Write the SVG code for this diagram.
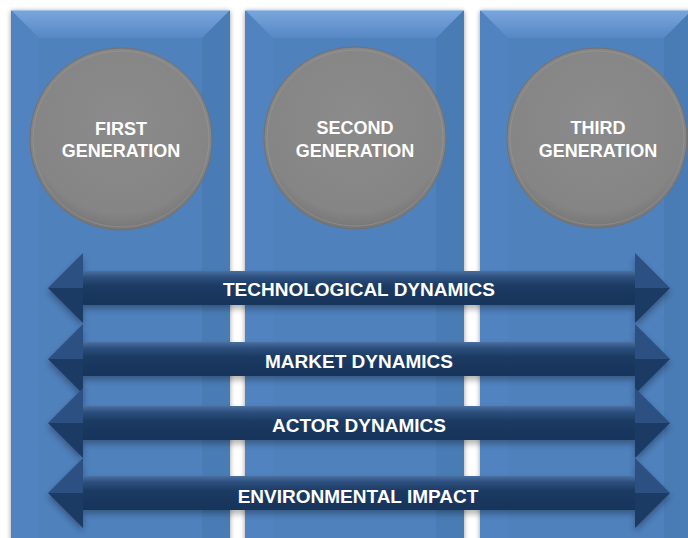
<svg xmlns="http://www.w3.org/2000/svg" width="688" height="538" viewBox="0 0 688 538">
  <style>
    .face { fill: #4f81bd; }
    .bev-top { fill: url(#bevTop); }
    .bev-left { fill: #5183c0; }
    .bev-right { fill: #4a7bb5; }
    .rim { fill: none; stroke: #9cc2ee; stroke-width: 1; }
    .disc { fill: url(#discFill); stroke: #717171; stroke-width: 1; }
    .disc-ring { fill: none; stroke: #a0a0a0; stroke-width: 1; opacity: 0.45; }
    .gen { font-family: "Liberation Sans", Arial, sans-serif; font-weight: bold; font-size: 18px; fill: #ffffff; text-anchor: middle; }
    .dyn { font-family: "Liberation Sans", Arial, sans-serif; font-weight: bold; font-size: 19px; fill: #ffffff; text-anchor: middle; }
    .shaft { fill: url(#shaftFill); }
    .head-up { fill: #2c5081; }
    .head-dn { fill: #1b3b65; }
    .shade { fill: #000000; opacity: 0.3; filter: url(#soft); }
  </style>
  <defs>
    <linearGradient id="bevTop" x1="0" y1="0" x2="0" y2="1">
      <stop offset="0" stop-color="#7ba6dc"/>
      <stop offset="1" stop-color="#5688c6"/>
    </linearGradient>
    <radialGradient id="discFill" cx="0.5" cy="0.4" r="0.6">
      <stop offset="0" stop-color="#8b8b8b"/>
      <stop offset="0.85" stop-color="#858585"/>
      <stop offset="1" stop-color="#767676"/>
    </radialGradient>
    <linearGradient id="shaftFill" x1="0" y1="0" x2="0" y2="1">
      <stop offset="0" stop-color="#4a70a0"/>
      <stop offset="0.18" stop-color="#2c4f7e"/>
      <stop offset="0.45" stop-color="#1b3a62"/>
      <stop offset="1" stop-color="#17345a"/>
    </linearGradient>
    <filter id="soft" x="-10%" y="-50%" width="120%" height="200%">
      <feGaussianBlur stdDeviation="3"/>
    </filter>
    <filter id="colShadow" x="-10%" y="-5%" width="120%" height="110%">
      <feGaussianBlur in="SourceAlpha" stdDeviation="2.5"/>
      <feOffset dx="0" dy="1" result="b"/>
      <feComponentTransfer><feFuncA type="linear" slope="0.4"/></feComponentTransfer>
      <feMerge><feMergeNode/><feMergeNode in="SourceGraphic"/></feMerge>
    </filter>
  </defs>

  <rect width="688" height="538" fill="#ffffff"/>

  <!-- generation columns with bevelled tops -->
  <g id="column-first" filter="url(#colShadow)">
    <rect class="face" x="11" y="10" width="219" height="540"/>
    <polygon class="bev-left" points="11,10 39,38 39,550 11,550"/>
    <polygon class="bev-right" points="230,10 202,38 202,550 230,550"/>
    <polygon class="bev-top" points="11,10 230,10 202,38 39,38"/>
    <line class="rim" x1="11" y1="10.5" x2="230" y2="10.5"/>
  </g>
  <g id="column-second" filter="url(#colShadow)">
    <rect class="face" x="245" y="10" width="219" height="540"/>
    <polygon class="bev-left" points="245,10 273,38 273,550 245,550"/>
    <polygon class="bev-right" points="464,10 436,38 436,550 464,550"/>
    <polygon class="bev-top" points="245,10 464,10 436,38 273,38"/>
    <line class="rim" x1="245" y1="10.5" x2="464" y2="10.5"/>
  </g>
  <g id="column-third" filter="url(#colShadow)">
    <rect class="face" x="480" y="10" width="212" height="540"/>
    <polygon class="bev-left" points="480,10 508,38 508,550 480,550"/>
    <polygon class="bev-right" points="692,10 664,38 664,550 692,550"/>
    <polygon class="bev-top" points="480,10 692,10 664,38 508,38"/>
    <line class="rim" x1="480" y1="10.5" x2="692" y2="10.5"/>
  </g>

  <!-- generation discs -->
  <g id="first-generation">
    <circle class="disc" cx="121" cy="139" r="91"/>
    <circle class="disc-ring" cx="121" cy="139" r="88"/>
    <text class="gen" x="121" y="135">FIRST</text>
    <text class="gen" x="121" y="157">GENERATION</text>
  </g>
  <g id="second-generation">
    <circle class="disc" cx="355" cy="138" r="91"/>
    <circle class="disc-ring" cx="355" cy="138" r="88"/>
    <text class="gen" x="355" y="134">SECOND</text>
    <text class="gen" x="355" y="157">GENERATION</text>
  </g>
  <g id="third-generation">
    <circle class="disc" cx="597" cy="138" r="90"/>
    <circle class="disc-ring" cx="597" cy="138" r="87"/>
    <text class="gen" x="598" y="134">THIRD</text>
    <text class="gen" x="598" y="157">GENERATION</text>
  </g>

  <!-- double-headed dynamics arrows spanning all generations -->
  <g id="connectors">
    <g id="technological-dynamics" transform="translate(0,288)">
      <path class="shade" d="M48,4 L83,-31 L83,-13 L635,-13 L635,-31 L670,4 L635,39 L635,21 L83,21 L83,39 Z"/>
      <rect class="shaft" x="82" y="-17" width="554" height="34"/>
      <polygon class="head-up" points="48,0 83,-35 83,0"/>
      <polygon class="head-dn" points="48,0 83,0 83,35"/>
      <polygon class="head-up" points="670,0 635,-35 635,0"/>
      <polygon class="head-dn" points="670,0 635,0 635,35"/>
      <text class="dyn" x="359" y="8">TECHNOLOGICAL DYNAMICS</text>
    </g>
    <g id="market-dynamics" transform="translate(0,359)">
      <path class="shade" d="M48,4 L83,-31 L83,-13 L635,-13 L635,-31 L670,4 L635,39 L635,21 L83,21 L83,39 Z"/>
      <rect class="shaft" x="82" y="-17" width="554" height="34"/>
      <polygon class="head-up" points="48,0 83,-35 83,0"/>
      <polygon class="head-dn" points="48,0 83,0 83,35"/>
      <polygon class="head-up" points="670,0 635,-35 635,0"/>
      <polygon class="head-dn" points="670,0 635,0 635,35"/>
      <text class="dyn" x="359" y="9">MARKET DYNAMICS</text>
    </g>
    <g id="actor-dynamics" transform="translate(0,423)">
      <path class="shade" d="M48,4 L83,-31 L83,-13 L635,-13 L635,-31 L670,4 L635,39 L635,21 L83,21 L83,39 Z"/>
      <rect class="shaft" x="82" y="-17" width="554" height="34"/>
      <polygon class="head-up" points="48,0 83,-35 83,0"/>
      <polygon class="head-dn" points="48,0 83,0 83,35"/>
      <polygon class="head-up" points="670,0 635,-35 635,0"/>
      <polygon class="head-dn" points="670,0 635,0 635,35"/>
      <text class="dyn" x="359" y="9">ACTOR DYNAMICS</text>
    </g>
    <g id="environmental-impact" transform="translate(0,493)">
      <path class="shade" d="M48,4 L83,-31 L83,-13 L635,-13 L635,-31 L670,4 L635,39 L635,21 L83,21 L83,39 Z"/>
      <rect class="shaft" x="82" y="-17" width="554" height="34"/>
      <polygon class="head-up" points="48,0 83,-35 83,0"/>
      <polygon class="head-dn" points="48,0 83,0 83,35"/>
      <polygon class="head-up" points="670,0 635,-35 635,0"/>
      <polygon class="head-dn" points="670,0 635,0 635,35"/>
      <text class="dyn" x="358" y="10">ENVIRONMENTAL IMPACT</text>
    </g>
  </g>
</svg>
